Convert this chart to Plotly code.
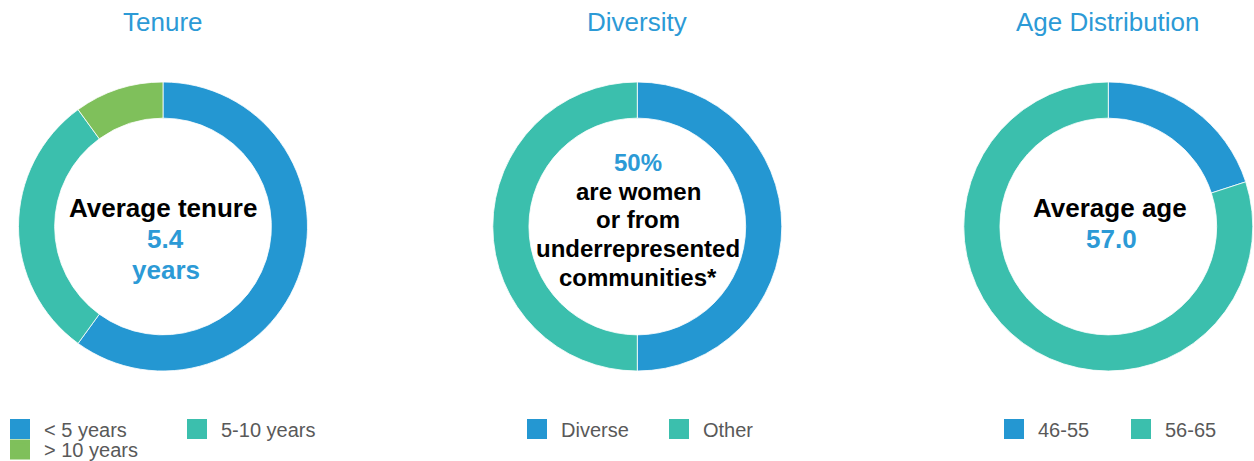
import plotly.graph_objects as go

# ---- data ----
tenure_labels = ["< 5 years", "5-10 years", "> 10 years"]
tenure_values = [6, 3, 1]
tenure_colors = ["#2497D2", "#3BBFAD", "#7FC05B"]

diversity_labels = ["Diverse", "Other"]
diversity_values = [5, 5]
diversity_colors = ["#2497D2", "#3BBFAD"]

age_labels = ["46-55", "56-65"]
age_values = [2, 8]
age_colors = ["#2497D2", "#3BBFAD"]

titles = ["Tenure", "Diversity", "Age Distribution"]
avg_tenure = 5.4
diverse_pct = 50
avg_age = 57.0

W, H = 1254, 461
BLUE_TXT = "#2C9AD6"
FONT = "Arial, 'Liberation Sans', Helvetica, sans-serif"

centers_px = [163, 637.3, 1108.3]
cy_px = 226.5
half_w = 0.1155
ydom = [1 - (cy_px + 144.5) / H, 1 - (cy_px - 144.5) / H]


def xdom(cx):
    c = cx / W
    return [max(0, c - half_w), min(1, c + half_w)]


fig = go.Figure()

pies = [
    (tenure_labels, tenure_values, tenure_colors),
    (diversity_labels, diversity_values, diversity_colors),
    (age_labels, age_values, age_colors),
]
for (labels, values, colors), cx in zip(pies, centers_px):
    fig.add_trace(go.Pie(
        labels=labels, values=values, hole=0.75, sort=False,
        direction="clockwise", rotation=0, textinfo="none",
        marker=dict(colors=colors, line=dict(color="white", width=0.8)),
        domain=dict(x=xdom(cx), y=ydom), showlegend=False,
    ))

# legend entries (square swatches); tenure legend wraps onto a second row
legend_sets = [
    (["legend", "legend", "legend4"], tenure_labels, tenure_colors),
    (["legend2", "legend2"], diversity_labels, diversity_colors),
    (["legend3", "legend3"], age_labels, age_colors),
]
for lgs, labels, colors in legend_sets:
    for lg, lab, col in zip(lgs, labels, colors):
        fig.add_trace(go.Scatter(
            x=[None], y=[None], mode="markers", name=lab,
            marker=dict(symbol="square", size=16, color=col,
                        line=dict(color=col, width=4)),
            legend=lg, showlegend=True, hoverinfo="skip",
        ))

leg_font = dict(family=FONT, size=20, color="#595959")
common = dict(orientation="h", xanchor="left", yanchor="top",
              font=leg_font, itemwidth=38, bgcolor="rgba(0,0,0,0)",
              borderwidth=0, traceorder="normal")

ann = []


def add_text(text, cx, cy, size, color, bold=False):
    ann.append(dict(text=(f"<b>{text}</b>" if bold else text),
                    x=cx / W, y=1 - cy / H, xref="paper", yref="paper",
                    xanchor="center", yanchor="middle", showarrow=False,
                    font=dict(family=FONT, size=size, color=color)))


for t, cx in zip(titles, centers_px):
    add_text(t, cx, 22, 26, BLUE_TXT)

# Tenure center
add_text("Average tenure", 163, 208, 26, "#000000", True)
add_text(f"{avg_tenure:.1f}", 165.5, 239, 26, BLUE_TXT, True)
add_text("years", 166, 270, 26, BLUE_TXT, True)

# Diversity center
add_text(f"{diverse_pct}%", 637.5, 162.5, 24, BLUE_TXT, True)
for line, yy in zip(["are women", "or from", "underrepresented", "communities*"],
                    [191.5, 220, 248.5, 277]):
    add_text(line, 638, yy, 24, "#000000", True)

# Age center
add_text("Average age", 1110, 208, 26, "#000000", True)
add_text(f"{avg_age:.1f}", 1111.5, 239, 26, BLUE_TXT, True)

fig.update_layout(
    width=W, height=H,
    margin=dict(l=0, r=0, t=0, b=0, autoexpand=False),
    paper_bgcolor="white", plot_bgcolor="white",
    xaxis=dict(visible=False), yaxis=dict(visible=False),
    annotations=ann,
    legend=dict(x=-4 / W, y=1 - 409.5 / H, entrywidth=124, **common),
    legend4=dict(x=-4 / W, y=1 - 430 / H, entrywidth=124, **common),
    legend2=dict(x=513 / W, y=1 - 409.5 / H, entrywidth=89, **common),
    legend3=dict(x=990 / W, y=1 - 409.5 / H, entrywidth=74, **common),
    hovermode=False,
)

fig.write_html("out.html")
